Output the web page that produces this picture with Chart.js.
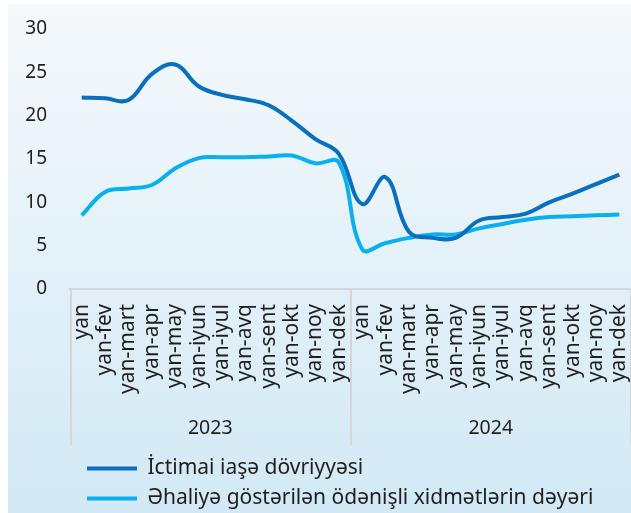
<!DOCTYPE html>
<html>
<head>
    <meta charset="utf-8">
    <title></title>
    <script src="https://cdn.jsdelivr.net/npm/chart.js@4.4.1/dist/chart.umd.min.js"></script>
    <style>
        body { margin: 0; background: #fff; }
        #canvas-holder { width: 631px; height: 513px; }
    </style>
</head>

<body>
    <div id="canvas-holder">
        <canvas id="chart-area"></canvas>
    </div>

    <script>
		// month labels repeat for each year
		var months = ['yan', 'yan-fev', 'yan-mart', 'yan-apr', 'yan-may', 'yan-iyun',
			'yan-iyul', 'yan-avq', 'yan-sent', 'yan-okt', 'yan-noy', 'yan-dek'];
		var years = ['2023', '2024'];

		var iase = [22.1, 22.0, 21.8, 24.8, 25.9, 23.4, 22.4, 21.9, 21.2, 19.4, 17.3, 15.6,
			9.8, 12.9, 6.6, 5.9, 5.9, 7.9, 8.3, 8.7, 10.0, 11.0, 12.1, 13.2];
		var xidmet = [8.5, 11.2, 11.6, 12.0, 13.9, 15.1, 15.2, 15.2, 15.3, 15.4, 14.5, 14.6,
			4.6, 5.3, 5.9, 6.3, 6.3, 7.0, 7.5, 8.0, 8.3, 8.4, 8.5, 8.6];

		var seriesNames = ['İctimai iaşə dövriyyəsi', 'Əhaliyə göstərilən ödənişli xidmətlərin dəyəri'];
		var yMin = 0, yMax = 30, yStep = 5;

		var labels = [];
		years.forEach(function () { labels = labels.concat(months); });

		var font = "'Noto Sans', 'Open Sans', sans-serif";
		var textColor = '#1e1e1e';
		var axisGrey = '#d6d6d6';

		// light blue panel behind everything
		var background = {
			id: 'background',
			beforeDraw: function (chart) {
				var ctx = chart.ctx;
				var g = ctx.createLinearGradient(0, 4, 0, chart.height);
				g.addColorStop(0, '#f5f9fc');
				g.addColorStop(1, '#d2e9f5');
				ctx.save();
				ctx.fillStyle = g;
				ctx.fillRect(8, 4, chart.width - 8, chart.height - 4);
				ctx.restore();
			},
			afterLayout: function (chart) {
				// legend lines start a bit inside the plot's left edge
				chart.legend.left += 8;
				chart.legend.right += 8;
			}
		};

		// vertical dividers between the year groups under the axis
		var yearDividers = {
			id: 'yearDividers',
			afterDraw: function (chart) {
				var x = chart.scales.x, yr = chart.scales.years, ctx = chart.ctx;
				var per = months.length;
				var xs = [x.left + 1];
				for (var i = 1; i < years.length; i++) {
					xs.push((x.getPixelForValue(i * per - 1) + x.getPixelForValue(i * per)) / 2);
				}
				xs.push(x.right);
				ctx.save();
				ctx.strokeStyle = axisGrey;
				ctx.lineWidth = 2;
				xs.forEach(function (px) {
					ctx.beginPath();
					ctx.moveTo(Math.round(px), x.top);
					ctx.lineTo(Math.round(px), yr.bottom - 4);
					ctx.stroke();
				});
				ctx.restore();
			}
		};

		function noSidePadding(scale) {
			scale.paddingLeft = 0;
			scale.paddingRight = 0;
		}

		var object = {
			type: 'line',
			data: {
				labels: labels,
				datasets: [{
					label: seriesNames[0],
					data: iase,
					borderColor: '#0a6fbd',
					backgroundColor: '#0a6fbd',
					borderWidth: 4,
					pointRadius: 0,
					tension: 0.4,
					xAxisID: 'x'
				}, {
					label: seriesNames[1],
					data: xidmet,
					borderColor: '#0ab0ee',
					backgroundColor: '#0ab0ee',
					borderWidth: 4,
					pointRadius: 0,
					tension: 0.4,
					xAxisID: 'x'
				}]
			},
			options: {
				responsive: true,
				maintainAspectRatio: false,
				animation: false,
				layout: { padding: { top: 29, left: 25, right: 0, bottom: -6 } },
				scales: {
					x: {
						position: 'bottom',
						weight: 0,
						offset: true,
						grid: { display: false, drawTicks: false },
						border: { display: true, color: axisGrey, width: 2 },
						ticks: {
							autoSkip: false,
							minRotation: 90,
							maxRotation: 90,
							padding: 15,
							color: textColor,
							font: { family: font, size: 21 }
						},
						afterFit: function (scale) { scale.height = 125; noSidePadding(scale); }
					},
					years: {
						type: 'category',
						labels: years,
						position: 'bottom',
						weight: 1,
						offset: true,
						grid: { display: false, drawTicks: false },
						border: { display: false },
						ticks: {
							padding: 3,
							color: textColor,
							font: { family: font, size: 19.5 }
						},
						afterFit: function (scale) { scale.height = 35; noSidePadding(scale); }
					},
					y: {
						min: yMin,
						max: yMax,
						grid: { display: false, drawTicks: false },
						border: { display: false },
						ticks: {
							stepSize: yStep,
							padding: 23,
							color: textColor,
							font: { family: font, size: 19 }
						},
						afterFit: function (scale) {
							scale.width = 45;
							scale.paddingTop = 11;
							scale.paddingBottom = 11;
						}
					}
				},
				plugins: {
					tooltip: { enabled: false },
					legend: {
						position: 'bottom',
						align: 'start',
						fullSize: false,
						labels: {
							usePointStyle: true,
							pointStyle: 'line',
							pointStyleWidth: 50,
							padding: 9,
							color: textColor,
							font: { family: font, size: 21 }
						}
					}
				}
			},
			plugins: [background, yearDividers]
		};

		window.onload = function () {
			var ctx = document.getElementById('chart-area').getContext('2d');
			window.myLine = new Chart(ctx, object);
		};
    </script>
</body>
</html>
